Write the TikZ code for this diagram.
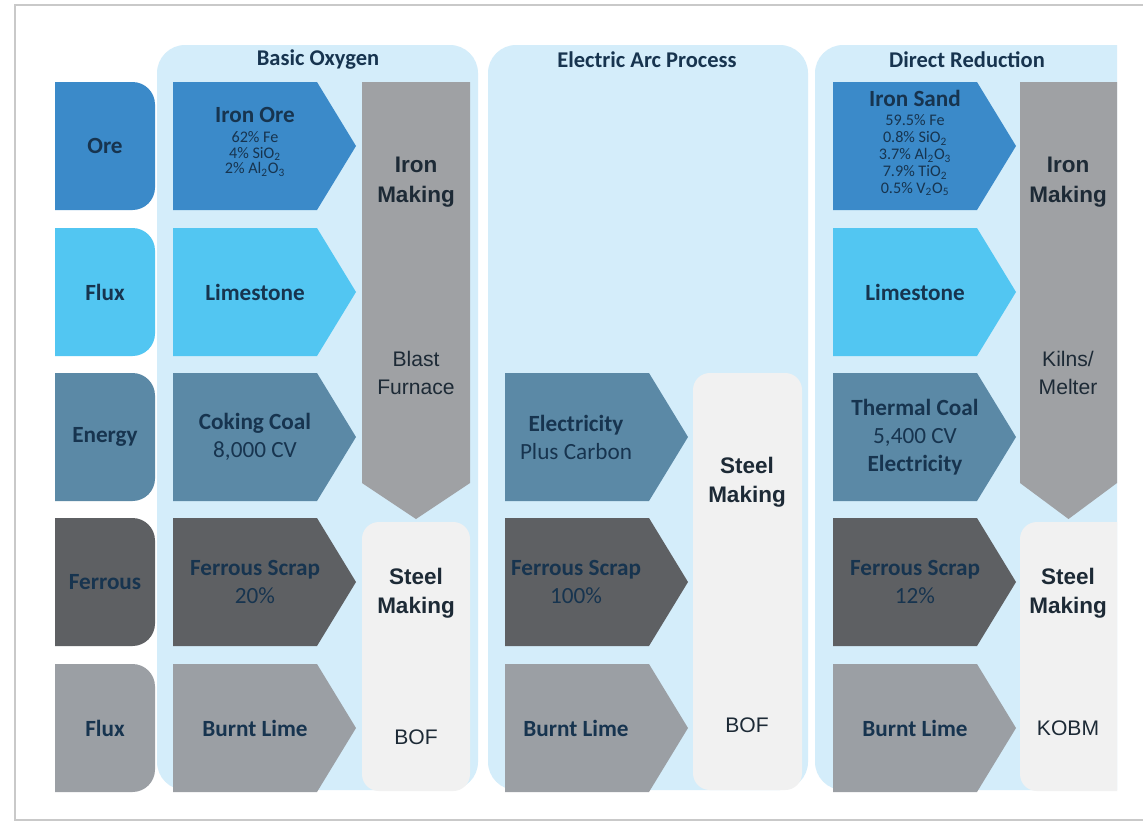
\documentclass[tikz,border=0pt]{standalone}
\usepackage{xcolor}
\usepackage{fontspec}
\setmainfont{Carlito}
\newfontfamily\arialfont{Liberation Sans}
\usetikzlibrary{calc}
\usetikzlibrary{positioning}

\definecolor{panel}{HTML}{D4EDFA}
\definecolor{ore}{HTML}{3B8AC9}
\definecolor{flux}{HTML}{52C6F2}
\definecolor{energy}{HTML}{5B89A6}
\definecolor{ferrous}{HTML}{5E6063}
\definecolor{lime}{HTML}{9B9FA4}
\definecolor{ironcol}{HTML}{9FA1A4}
\definecolor{steelcol}{HTML}{F1F1F1}
\definecolor{navy}{HTML}{17344F}
\definecolor{darktxt}{HTML}{1D2A36}
\definecolor{framegrey}{HTML}{C9C9C9}

\newcommand\subfont{\mdseries\fontsize{11.5}{12}\selectfont}
\newcommand\chev[3]{\fill[#3] (#1,#2) -- ++(144,0) -- ++(39,64) -- ++(-39,64) -- ++(-144,0) -- cycle;}

\tikzset{
  coltitle/.style = {text=navy, font=\bfseries\fontsize{16}{19}\selectfont},
  cattext/.style = {text=navy, font=\bfseries\fontsize{16.5}{20}\selectfont},
  flowtext/.style = {text=navy, align=center, font=\bfseries\fontsize{16.5}{20}\selectfont},
  procbold/.style = {text=darktxt, align=center, font=\arialfont\bfseries\fontsize{16}{21}\selectfont},
  procplain/.style = {text=darktxt, align=center, font=\arialfont\fontsize{15}{20.5}\selectfont},
}

\begin{document}
\begin{tikzpicture}[x=0.025cm, y=-0.025cm]
\useasboundingbox (0,0) rectangle (1143,830);
\fill[white] (0,0) rectangle (1143,830);
\draw[framegrey, line width=1.5pt] (1143,5) -- (15,5) -- (15,820) -- (1143,820);

\begin{scope}
\clip (55,0) rectangle (1117,830);
% column panels
\fill[panel, rounded corners=20] (157,45) rectangle (478,790);
\fill[panel, rounded corners=20] (488,45) rectangle (808,790);
\fill[panel, rounded corners=20] (815,45) rectangle (1150,790);

% row categories
\foreach \y/\c/\t [count=\i] in {82/ore/Ore, 228/flux/Flux, 373/energy/Energy, 518/ferrous/Ferrous, 664/lime/Flux} {
  \fill[\c, rounded corners=16] (30,\y) rectangle (155,\y+128);
  \node[cattext] (cat\i) at (105,\y+64) {\t};
}

% input arrows
\foreach \y/\c in {82/ore, 228/flux, 373/energy, 518/ferrous, 664/lime} {
  \chev{173}{\y}{\c}
  \chev{833}{\y}{\c}
}
\foreach \y/\c in {373/energy, 518/ferrous, 664/lime} {
  \chev{505}{\y}{\c}
}

% process columns
\fill[ironcol] (362,82) -- (470,82) -- (470,483) -- (416,519) -- (362,483) -- cycle;
\fill[ironcol] (1020,82) -- (1117,82) -- (1117,483) -- (1068.5,519) -- (1020,483) -- cycle;
\fill[steelcol, rounded corners=12] (362,522) rectangle (470,791);
\fill[steelcol, rounded corners=12] (693,373) rectangle (802,790);
\fill[steelcol, rounded corners=12] (1020,522) rectangle (1140,791);
\end{scope}

% titles
\node[coltitle] (tbo) at (318,60) {Basic Oxygen};
\node[coltitle] (tea) at (647,60) {Electric Arc Process};
\node[coltitle] (tdr) at (967,60) {Direct Reduction};

% basic oxygen
\node[flowtext] (bo1) at (255,142) {Iron Ore\\[-6pt]\subfont 62\% Fe\\[-9pt]\subfont 4\% SiO\textsubscript{2}\\[-9pt]\subfont 2\% Al\textsubscript{2}O\textsubscript{3}};
\node[flowtext] (bo2) at (255,292) {Limestone};
\node[flowtext] (bo3) at (255,437) {Coking Coal\\\mdseries 8,000 CV};
\node[flowtext] (bo4) at (255,582) {Ferrous Scrap\\\mdseries 20\%};
\node[flowtext] (bo5) at (255,728) {Burnt Lime};
\node[procbold] (boiron) at (416,182) {Iron\\Making};
\node[procplain] (bobf) at (416,373) {Blast\\Furnace};
\node[procbold] (bosteel) at (416,593) {Steel\\Making};
\node[procplain] (bobof) at (416,737) {BOF};

% electric arc
\node[flowtext] (ea3) at (576,437) {Electricity\\\mdseries Plus Carbon};
\node[flowtext] (ea4) at (576,582) {Ferrous Scrap\\\mdseries 100\%};
\node[flowtext] (ea5) at (576,728) {Burnt Lime};
\node[procbold] (easteel) at (747,482) {Steel\\Making};
\node[procplain] (eabof) at (747,725) {BOF};

% direct reduction
\node[flowtext] (dr1) at (915,143) {Iron Sand\\[-6pt]\subfont 59.5\% Fe\\[-8pt]\subfont 0.8\% SiO\textsubscript{2}\\[-8pt]\subfont 3.7\% Al\textsubscript{2}O\textsubscript{3}\\[-8pt]\subfont 7.9\% TiO\textsubscript{2}\\[-8pt]\subfont 0.5\% V\textsubscript{2}O\textsubscript{5}};
\node[flowtext] (dr2) at (915,292) {Limestone};
\node[flowtext] (dr3) at (915,437) {Thermal Coal\\\mdseries 5,400 CV\\\bfseries Electricity};
\node[flowtext] (dr4) at (915,582) {Ferrous Scrap\\\mdseries 12\%};
\node[flowtext] (dr5) at (915,728) {Burnt Lime};
\node[procbold] (driron) at (1068,182) {Iron\\Making};
\node[procplain] (drkiln) at (1068,373) {Kilns/\\Melter};
\node[procbold] (drsteel) at (1068,593) {Steel\\Making};
\node[procplain] (drkobm) at (1068,728) {KOBM};
\end{tikzpicture}
\end{document}
